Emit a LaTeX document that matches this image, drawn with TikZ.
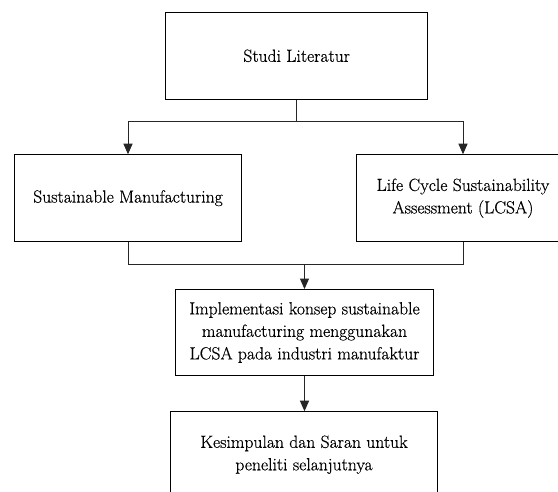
\documentclass[tikz,border=0pt]{standalone}
\usepackage{fontspec}
\newfontfamily\boxfont{Latin Modern Roman}[FakeBold=0.5]
\usetikzlibrary{arrows.meta}
\begin{document}
\begin{tikzpicture}[x=1pt,y=-1pt,
  box/.style={draw=black,line width=0.9pt,inner sep=0pt,align=center,
    font=\boxfont\fontsize{17.6}{22.5}\selectfont},
  link/.style={draw=black!85,line width=1pt},
  arr/.style={link,-{Triangle[length=10.5pt,width=9pt]}}]
\clip (0,0) rectangle (558,492);
\fill[white] (0,0) rectangle (558,492);
\node[box,minimum width=262pt,minimum height=87pt] (studi) at (296.7,55.8) {Studi Literatur};
\node[box,minimum width=227.4pt,minimum height=87pt] (sm) at (128,198.2) {Sustainable Manufacturing};
\node[box,minimum width=212.6pt,minimum height=87pt] (lcsa) at (463,198.2) {Life Cycle Sustainability\\Assessment (LCSA)};
\node[box,minimum width=257.6pt,minimum height=86pt] (impl) at (304.5,332.5) {Implementasi konsep sustainable\\manufacturing menggunakan\\LCSA pada industri manufaktur};
\node[box,minimum width=266.6pt,minimum height=86pt] (kes) at (304,454.7) {Kesimpulan dan Saran untuk\\peneliti selanjutnya};
\coordinate (j1) at (296.7,121.3);
\coordinate (j2) at (304.5,264.3);
\draw[link] (studi.south) -- (j1);
\draw[arr] (j1) -| (sm.north);
\draw[arr] (j1) -| (lcsa.north);
\draw[link] (sm.south) |- (j2);
\draw[link] (lcsa.south) |- (j2);
\draw[arr] (j2) -- (impl.north);
\draw[arr] (impl.south) -- (impl.south |- kes.north);
\end{tikzpicture}
\end{document}
